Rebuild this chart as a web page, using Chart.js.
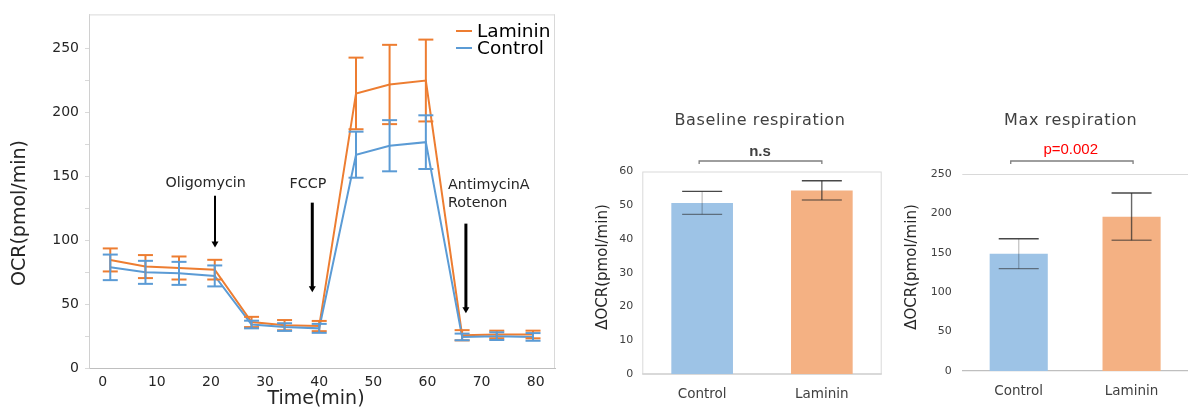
<!DOCTYPE html>
<html><head><meta charset="utf-8">
<script src="https://cdn.jsdelivr.net/npm/chart.js@4.4.0/dist/chart.umd.min.js"></script>
<style>
html,body{margin:0;padding:0;background:#fff;}
#wrap{position:relative;width:1188px;height:419px;overflow:hidden;background:#fff;}
canvas{position:absolute;top:0;}
</style></head><body>
<div id="wrap">
<canvas id="c1" width="590" height="419" style="left:0px"></canvas>
<canvas id="c2" width="295" height="419" style="left:590px"></canvas>
<canvas id="c3" width="303" height="419" style="left:885px"></canvas>
</div>
<script>
// ---------- DATA ----------
const timeMin     = [1.4, 7.9, 14.1, 20.7, 27.5, 33.6, 40.0, 46.8, 53.0, 59.7, 66.4, 72.8, 79.5];
const lamininOCR  = [84.5, 79.3, 78.2, 76.9, 36.0, 33.5, 32.8, 214.7, 221.7, 224.8, 25.6, 26.2, 26.2];
const lamininSD   = [9, 9, 9, 7.7, 4, 4, 4, 28, 31, 32, 4, 3, 3];
const controlOCR  = [78.7, 74.8, 74.0, 72.0, 34.0, 32.0, 31.0, 166.8, 173.8, 176.6, 24.3, 24.9, 24.3];
const controlSD   = [10, 9, 9, 8.2, 3, 3, 3.5, 18, 20, 21, 2.6, 3, 3];
const timeTicks   = [0, 10, 20, 30, 40, 50, 60, 70, 80];
const ocrTicks    = [0, 25, 50, 75, 100, 125, 150, 175, 200, 225, 250];
const injectionNames = [['Oligomycin'], ['FCCP'], ['AntimycinA', 'Rotenon']];
const injectionTimes = [20.75, 38.72, 67.1];

const barCategories = ['Control', 'Laminin'];
const baselineMean  = [50.7, 54.4];
const baselineErr   = [3.4, 2.85];
const baselineTicks = [0, 10, 20, 30, 40, 50, 60];
const baselineSig   = 'n.s';
const maxMean       = [148.9, 195.9];
const maxErr        = [19, 30];
const maxTicks      = [0, 50, 100, 150, 200, 250];
const maxSig        = 'p=0.002';

// ---------- STYLE ----------
const ORANGE = '#ED7D31', BLUE = '#5B9BD5';
const BAR_BLUE = '#9DC3E6', BAR_ORANGE = '#F4B183';
const FONT = '"DejaVu Sans", Verdana, sans-serif';
const TXT = '#262626', TXT2 = '#404040';

function vtext(ctx, txt, x, y, font, color) {
  ctx.save(); ctx.translate(x, y); ctx.rotate(-Math.PI / 2);
  ctx.font = font; ctx.fillStyle = color; ctx.textAlign = 'center'; ctx.textBaseline = 'middle';
  ctx.fillText(txt, 0, 0); ctx.restore();
}
function line(ctx, x1, y1, x2, y2, color, w) {
  ctx.beginPath(); ctx.moveTo(x1, y1); ctx.lineTo(x2, y2);
  ctx.strokeStyle = color; ctx.lineWidth = w; ctx.stroke();
}

// ---------- LEFT: OCR time course ----------
const annot = [
  {top: 134.7, tip: 94.2, w: 2, text: {x: 19.03, y: 144.3, align: 'center'}},
  {top: 129.3, tip: 59.2, w: 3, text: {x: 37.93, y: 143.3, align: 'center'}},
  {top: 112.9, tip: 42.8, w: 3, text: {x: 63.8, y: 142.5, align: 'left'}}
];
const leftDecor = {
  id: 'leftDecor',
  beforeDatasetsDraw(chart) {
    const {ctx, chartArea: a} = chart;
    ctx.save();
    line(ctx, a.left, a.top + 0.5, a.right, a.top + 0.5, '#d9d9d9', 1);
    line(ctx, a.right - 0.5, a.top, a.right - 0.5, a.bottom, '#d9d9d9', 1);
    ctx.restore();
  },
  afterDatasetsDraw(chart) {
    const {ctx, scales: {x, y}} = chart;
    const sets = [[lamininOCR, lamininSD, ORANGE], [controlOCR, controlSD, BLUE]];
    ctx.save();
    sets.forEach(([m, sd, col]) => {
      timeMin.forEach((t, i) => {
        const px = x.getPixelForValue(t);
        const yt = y.getPixelForValue(m[i] + sd[i]);
        const yb = y.getPixelForValue(m[i] - sd[i]);
        line(ctx, px, yt, px, yb, col, 2);
        line(ctx, px - 7.5, yt, px + 7.5, yt, col, 2);
        line(ctx, px - 7.5, yb, px + 7.5, yb, col, 2);
      });
    });
    ctx.restore();
  },
  afterDraw(chart) {
    const {ctx, chartArea: a, scales: {x, y}} = chart;
    ctx.save();
    // legend
    const leg = [['Laminin', ORANGE, 31], ['Control', BLUE, 48]];
    leg.forEach(([t, c, yy]) => {
      line(ctx, a.right - 99, yy, a.right - 83, yy, c, 2);
      ctx.font = '18.5px ' + FONT; ctx.fillStyle = '#000';
      ctx.textAlign = 'left'; ctx.textBaseline = 'middle';
      ctx.fillText(t, a.right - 78, yy + 1);
    });
    // injections
    annot.forEach((an, k) => {
      const px = x.getPixelForValue(injectionTimes[k]);
      const yTop = y.getPixelForValue(an.top), yTip = y.getPixelForValue(an.tip);
      line(ctx, px, yTop, px, yTip - 5, '#000', an.w);
      ctx.beginPath(); ctx.moveTo(px - 3.5, yTip - 6); ctx.lineTo(px + 3.5, yTip - 6); ctx.lineTo(px, yTip);
      ctx.closePath(); ctx.fillStyle = '#000'; ctx.fill();
      ctx.font = '14.3px ' + FONT; ctx.fillStyle = TXT; ctx.textAlign = an.text.align; ctx.textBaseline = 'middle';
      const tx = x.getPixelForValue(an.text.x), ty = y.getPixelForValue(an.text.y);
      injectionNames[k].forEach((s, j) => ctx.fillText(s, tx, ty + j * 18));
    });
    // axis titles
    vtext(ctx, 'OCR(pmol/min)', 20, 213, '19px ' + FONT, TXT);
    ctx.font = '19px ' + FONT; ctx.fillStyle = TXT; ctx.textAlign = 'center'; ctx.textBaseline = 'middle';
    ctx.fillText('Time(min)', 316, 399);
    ctx.restore();
  }
};

new Chart(document.getElementById('c1'), {
  type: 'line',
  data: {
    datasets: [
      {label: 'Laminin', data: timeMin.map((t, i) => ({x: t, y: lamininOCR[i]})),
       borderColor: ORANGE, borderWidth: 2, pointRadius: 0, tension: 0, fill: false, order: 2},
      {label: 'Control', data: timeMin.map((t, i) => ({x: t, y: controlOCR[i]})),
       borderColor: BLUE, borderWidth: 2, pointRadius: 0, tension: 0, fill: false, order: 1}
    ]
  },
  options: {
    responsive: false, animation: false, devicePixelRatio: 1,
    layout: {padding: {left: 0, top: 13, right: 35, bottom: 0}},
    plugins: {legend: {display: false}, tooltip: {enabled: false}},
    scales: {
      x: {
        type: 'linear', min: -2.53, max: 83.56,
        afterBuildTicks: s => { s.ticks = timeTicks.map(v => ({value: v})); },
        grid: {display: false, drawTicks: false},
        border: {display: true, color: '#bfbfbf', width: 1},
        ticks: {padding: 6, font: {family: FONT, size: 14}, color: TXT, maxRotation: 0, autoSkip: false},
        afterFit: s => { s.height = 51; }
      },
      y: {
        min: 0, max: 276.5,
        afterBuildTicks: s => { s.ticks = ocrTicks.map(v => ({value: v})); },
        grid: {drawOnChartArea: false, drawTicks: true, tickLength: 4, color: '#d9d9d9'},
        border: {display: true, color: '#d0d0d0', width: 1},
        ticks: {padding: 6, font: {family: FONT, size: 14}, color: TXT, autoSkip: false,
                callback: v => (v % 50 === 0 ? String(v) : '')},
        afterFit: s => { s.width = 89; }
      }
    }
  },
  plugins: [leftDecor]
});

// ---------- BAR CHARTS ----------
function barDecor(cfg) {
  return {
    id: 'barDecor',
    beforeDatasetsDraw(chart) {
      const {ctx, chartArea: a} = chart;
      ctx.save();
      if (cfg.box) {
        ctx.strokeStyle = '#d9d9d9'; ctx.lineWidth = 1;
        ctx.strokeRect(a.left + 0.5, a.top + 0.5, a.right - a.left - 1, a.bottom - a.top);
      } else {
        line(ctx, a.left, a.top + 0.5, a.right, a.top + 0.5, '#d9d9d9', 1.2);
      }
      ctx.restore();
    },
    afterDatasetsDraw(chart) {
      const {ctx, scales: {y}} = chart;
      const meta = chart.getDatasetMeta(0);
      ctx.save();
      meta.data.forEach((el, i) => {
        const m = cfg.mean[i], e = cfg.err[i];
        const yt = y.getPixelForValue(m + e), yb = y.getPixelForValue(m - e);
        line(ctx, el.x, yt, el.x, yb, cfg.vcol[i], 1.4);
        line(ctx, el.x - 20, yt, el.x + 20, yt, 'rgba(40,40,40,0.85)', 1.4);
        line(ctx, el.x - 20, yb, el.x + 20, yb, 'rgba(40,40,40,0.55)', 1.4);
      });
      ctx.restore();
    },
    afterDraw(chart) {
      const {ctx} = chart;
      const meta = chart.getDatasetMeta(0);
      ctx.save();
      ctx.font = '16px ' + FONT; ctx.fillStyle = TXT2; ctx.textAlign = 'center'; ctx.textBaseline = 'middle';
      ctx.letterSpacing = '0.6px';
      ctx.fillText(cfg.title, cfg.titleX, 121);
      ctx.letterSpacing = '0px';
      ctx.font = cfg.sigFont; ctx.fillStyle = cfg.sigColor;
      ctx.fillText(cfg.sig, cfg.titleX, cfg.sigY);
      const x1 = meta.data[0].x + cfg.brL, x2 = meta.data[1].x + cfg.brR, by = 161;
      ctx.beginPath(); ctx.moveTo(x1, by + 3); ctx.lineTo(x1, by); ctx.lineTo(x2, by); ctx.lineTo(x2, by + 3);
      ctx.strokeStyle = '#7f7f7f'; ctx.lineWidth = 1.3; ctx.stroke();
      vtext(ctx, 'ΔOCR(pmol/min)', cfg.yTitleX, 267, '15px ' + FONT, TXT);
      ctx.restore();
    }
  };
}

function makeBar(id, mean, err, ticksArr, max, pad, yWidth, xHeight, tickPad, decor) {
  new Chart(document.getElementById(id), {
    type: 'bar',
    data: {
      labels: barCategories,
      datasets: [{data: mean, backgroundColor: [BAR_BLUE, BAR_ORANGE], borderWidth: 0,
                  barPercentage: 0.515, categoryPercentage: 1}]
    },
    options: {
      responsive: false, animation: false, devicePixelRatio: 1,
      layout: {padding: pad},
      plugins: {legend: {display: false}, tooltip: {enabled: false}},
      scales: {
        x: {
          grid: {display: false, drawTicks: false},
          border: {display: true, color: decor.box ? '#d9d9d9' : '#bfbfbf', width: 1.2},
          ticks: {padding: 12.7, font: {family: FONT, size: 13.5}, color: TXT2},
          afterFit: s => { s.height = xHeight; }
        },
        y: {
          min: 0, max: max,
          afterBuildTicks: s => { s.ticks = ticksArr.map(v => ({value: v})); },
          grid: {display: false, drawTicks: false},
          border: {display: false},
          ticks: {padding: tickPad, font: {family: FONT, size: 11}, color: TXT2, autoSkip: false},
          afterFit: s => { s.width = yWidth; }
        }
      }
    },
    plugins: [barDecor(decor)]
  });
}

makeBar('c2', baselineMean, baselineErr, baselineTicks, 60,
  {left: 0, top: 171.5, right: 3.3, bottom: 0}, 52.3, 45, 9,
  {box: true, mean: baselineMean, err: baselineErr, title: 'Baseline respiration', titleX: 170,
   sig: baselineSig, sigFont: 'bold 15px "Liberation Sans", Arial, sans-serif', sigColor: '#404040', sigY: 152,
   brL: -3, brR: 0, yTitleX: 13, vcol: ['rgba(0,0,0,0.22)', 'rgba(40,40,40,0.7)']});

makeBar('c3', maxMean, maxErr, maxTicks, 250,
  {left: 0, top: 174, right: 0, bottom: 0}, 77.3, 48, 10.6,
  {box: false, mean: maxMean, err: maxErr, title: 'Max respiration', titleX: 185.7,
   sig: maxSig, sigFont: '15px "Liberation Sans", Arial, sans-serif', sigColor: '#FF0000', sigY: 149.5,
   brL: -8, brR: 1.5, yTitleX: 26.7, vcol: ['rgba(0,0,0,0.22)', 'rgba(40,40,40,0.7)']});
</script>
</body></html>
